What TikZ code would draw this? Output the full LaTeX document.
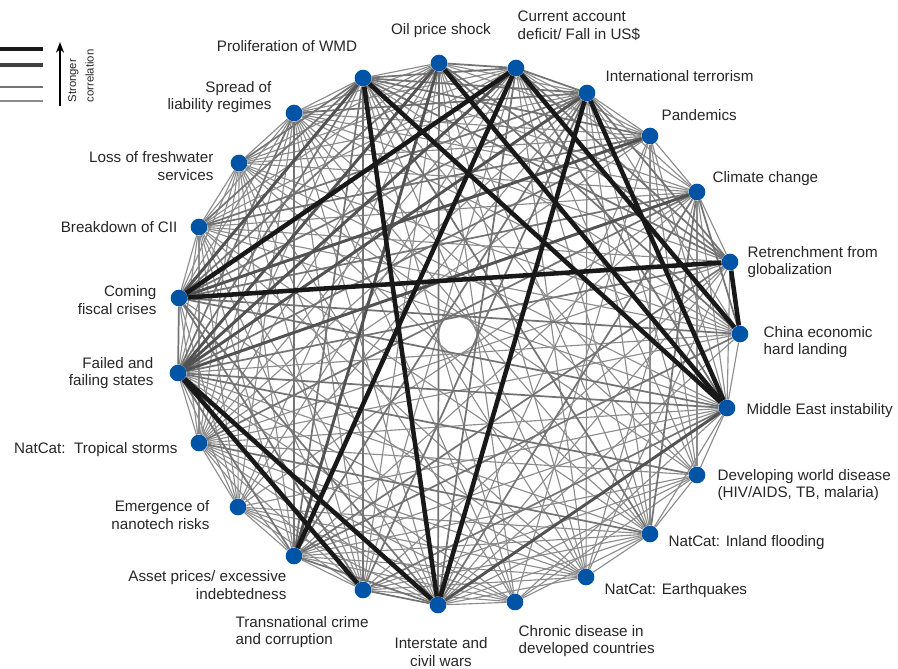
\documentclass[tikz,border=0pt]{standalone}
\usepackage{fontspec}
\setmainfont{Liberation Sans}
\usetikzlibrary{positioning,backgrounds,arrows.meta}
\definecolor{riskblue}{RGB}{0,84,166}

\begin{document}
\begin{tikzpicture}[x=0.75pt,y=-0.75pt,
    dot/.style={circle,fill=riskblue,minimum size=12.5pt,inner sep=0pt},
    lbl/.style={font=\fontsize{11.4}{13.2}\selectfont,text=black!85,inner sep=1pt},
    strong/.style={line width=3.4pt,draw=black!90},
    medium/.style={line width=2.2pt,draw=black!68},
    weak/.style={line width=1.3pt,draw=black!55},
    faint/.style={line width=0.85pt,draw=black!45}]
    \useasboundingbox (0,0) rectangle (898,668);

    % risks round the circle
    \node[dot] (oil) at (439,63) {};
    \node[dot] (cad) at (516,68) {};
    \node[dot] (terror) at (587,93) {};
    \node[dot] (pand) at (650,136) {};
    \node[dot] (climate) at (697,192) {};
    \node[dot] (retrench) at (730,262) {};
    \node[dot] (china) at (740,334) {};
    \node[dot] (mideast) at (727,408) {};
    \node[dot] (devdis) at (697,475) {};
    \node[dot] (flood) at (650,534) {};
    \node[dot] (quake) at (586,577) {};
    \node[dot] (chronic) at (515,602) {};
    \node[dot] (wars) at (438,605) {};
    \node[dot] (crime) at (363,590) {};
    \node[dot] (asset) at (294,556) {};
    \node[dot] (nano) at (238,507) {};
    \node[dot] (storms) at (199,443) {};
    \node[dot] (failed) at (178,373) {};
    \node[dot] (fiscal) at (179,298) {};
    \node[dot] (cii) at (199,227) {};
    \node[dot] (water) at (239,163) {};
    \node[dot] (liab) at (294,113) {};
    \node[dot] (wmd) at (363,78) {};

    % labels
    \node[lbl] (oilL) at (441,31) {Oil price shock};
    \node[lbl,anchor=west,align=left] (cadL) at (516,26) {Current account\\deficit/ Fall in US\$};
    \node[lbl,anchor=west] (terrorL) at (604,76) {International terrorism};
    \node[lbl,anchor=west] (pandL) at (660,115) {Pandemics};
    \node[lbl,anchor=west] (climateL) at (711,179) {Climate change};
    \node[lbl,anchor=west,align=left] (retrenchL) at (746,262) {Retrenchment from\\globalization};
    \node[lbl,anchor=west,align=left] (chinaL) at (762,342) {China economic\\hard landing};
    \node[lbl,anchor=west] (mideastL) at (745,411) {Middle East instability};
    \node[lbl,anchor=west,align=left] (devdisL) at (716,485) {Developing world disease\\(HIV/AIDS, TB, malaria)};
    \node[lbl,anchor=west] (floodL) at (667,543) {NatCat: Inland flooding};
    \node[lbl,anchor=west] (quakeL) at (603,591) {NatCat: Earthquakes};
    \node[lbl,anchor=west,align=left] (chronicL) at (517,641) {Chronic disease in\\developed countries};
    \node[lbl,align=center] (warsL) at (441,652) {Interstate and\\civil wars};
    \node[lbl,anchor=west,align=left] (crimeL) at (234,632) {Transnational crime\\and corruption};
    \node[lbl,anchor=east,align=right] (assetL) at (288,585) {Asset prices/ excessive\\indebtedness};
    \node[lbl,anchor=east,align=right] (nanoL) at (211,515) {Emergence of\\nanotech risks};
    \node[lbl,anchor=east] (stormsL) at (179,450) {NatCat:\ \ Tropical storms};
    \node[lbl,anchor=east,align=right] (failedL) at (155,373) {Failed and\\failing states};
    \node[lbl,anchor=east,align=right] (fiscalL) at (158,300) {Coming\\fiscal crises};
    \node[lbl,anchor=east] (ciiL) at (179,227) {Breakdown of CII};
    \node[lbl,anchor=east,align=right] (waterL) at (215,166) {Loss of freshwater\\services};
    \node[lbl,anchor=east,align=right] (liabL) at (273,97) {Spread of\\liability regimes};
    \node[lbl] (wmdL) at (287,46) {Proliferation of WMD};

    % key
    \draw[strong] (0,49) -- (43,49);
    \draw[line width=2.4pt,draw=black!75] (0,65) -- (43,65);
    \draw[weak] (0,87) -- (43,87);
    \draw[faint] (0,101) -- (43,101);
    \coordinate (keyS) at (60,106);
    \coordinate (keyN) at (60,42);
    \draw[-{Stealth[length=8pt,width=6pt]},line width=1.2pt] (keyS) -- (keyN);
    \node[rotate=90,align=left,font=\fontsize{8.5}{13}\selectfont,text=black!85,anchor=center] (keyL) at (81,76) {Stronger\\correlation};

    \begin{scope}[on background layer]
    \foreach \a/\b in {wmd/oil,wmd/liab,wmd/storms,wmd/chronic,wmd/quake,wmd/devdis,wmd/china,wmd/climate,
        oil/terror,oil/cii,oil/water,oil/liab,oil/crime,oil/nano,oil/storms,oil/chronic,oil/quake,oil/flood,oil/pand,
        cad/cii,cad/water,cad/liab,cad/crime,cad/storms,cad/nano,cad/quake,cad/flood,cad/devdis,cad/climate,cad/pand,
        terror/pand,terror/climate,terror/china,terror/water,terror/storms,terror/nano,terror/flood,terror/quake,terror/devdis,
        pand/climate,pand/liab,pand/water,pand/storms,pand/devdis,pand/flood,pand/wars,pand/chronic,pand/mideast,
        climate/retrench,climate/nano,climate/water,climate/cii,climate/quake,climate/devdis,climate/mideast,climate/asset,climate/liab,
        retrench/crime,retrench/wars,retrench/mideast,retrench/cii,retrench/storms,retrench/liab,retrench/quake,
        china/mideast,china/failed,china/cii,china/storms,china/wars,china/water,china/liab,
        mideast/devdis,mideast/flood,mideast/asset,mideast/cii,mideast/storms,mideast/nano,mideast/water,mideast/chronic,
        devdis/flood,devdis/wars,devdis/crime,devdis/asset,devdis/storms,devdis/chronic,devdis/liab,devdis/water,
        flood/quake,flood/wars,flood/nano,flood/asset,flood/crime,flood/cii,flood/water,flood/liab,flood/failed,flood/chronic,
        quake/wars,quake/storms,quake/nano,quake/crime,quake/asset,quake/cii,quake/failed,quake/fiscal,quake/liab,
        chronic/wars,chronic/crime,chronic/asset,chronic/nano,chronic/storms,chronic/failed,chronic/water,chronic/liab,
        wars/storms,wars/nano,wars/cii,wars/water,wars/liab,
        crime/asset,crime/nano,crime/storms,crime/cii,crime/water,crime/liab,
        asset/nano,asset/storms,asset/cii,asset/water,
        nano/storms,nano/failed,nano/fiscal,nano/cii,nano/water,nano/liab,
        storms/failed,storms/fiscal,storms/cii,storms/water,storms/liab,
        failed/cii,failed/water,fiscal/cii,fiscal/water,fiscal/liab,cii/water,cii/liab,water/liab}
        \draw[faint] (\a) -- (\b);
    \foreach \a/\b in {wmd/cad,wmd/terror,wmd/water,wmd/cii,wmd/failed,wmd/asset,wmd/crime,wmd/flood,wmd/retrench,wmd/pand,
        oil/cad,oil/wars,oil/fiscal,oil/china,oil/retrench,
        cad/terror,cad/retrench,cad/wars,cad/mideast,
        terror/retrench,terror/crime,terror/asset,terror/fiscal,terror/cii,terror/liab,
        pand/cii,pand/failed,
        climate/china,climate/fiscal,climate/storms,climate/flood,climate/wars,
        retrench/failed,retrench/asset,china/asset,china/fiscal,
        mideast/failed,mideast/fiscal,mideast/crime,devdis/failed,flood/storms,
        wars/crime,wars/asset,wars/fiscal,crime/fiscal,asset/failed,asset/liab,failed/fiscal,failed/liab}
        \draw[weak] (\a) -- (\b);
    \foreach \a/\b in {wars/mideast,climate/failed,terror/failed,pand/fiscal,cad/failed,oil/asset,wmd/fiscal,oil/failed}
        \draw[medium] (\a) -- (\b);
    % strongest links
    \foreach \a/\b in {fiscal/cad,fiscal/retrench,retrench/china,cad/china,cad/asset,wmd/mideast,
        wmd/wars,oil/mideast,terror/mideast,terror/wars,failed/wars,failed/crime}
        \draw[strong] (\a) -- (\b);
    \end{scope}
\end{tikzpicture}
\end{document}
